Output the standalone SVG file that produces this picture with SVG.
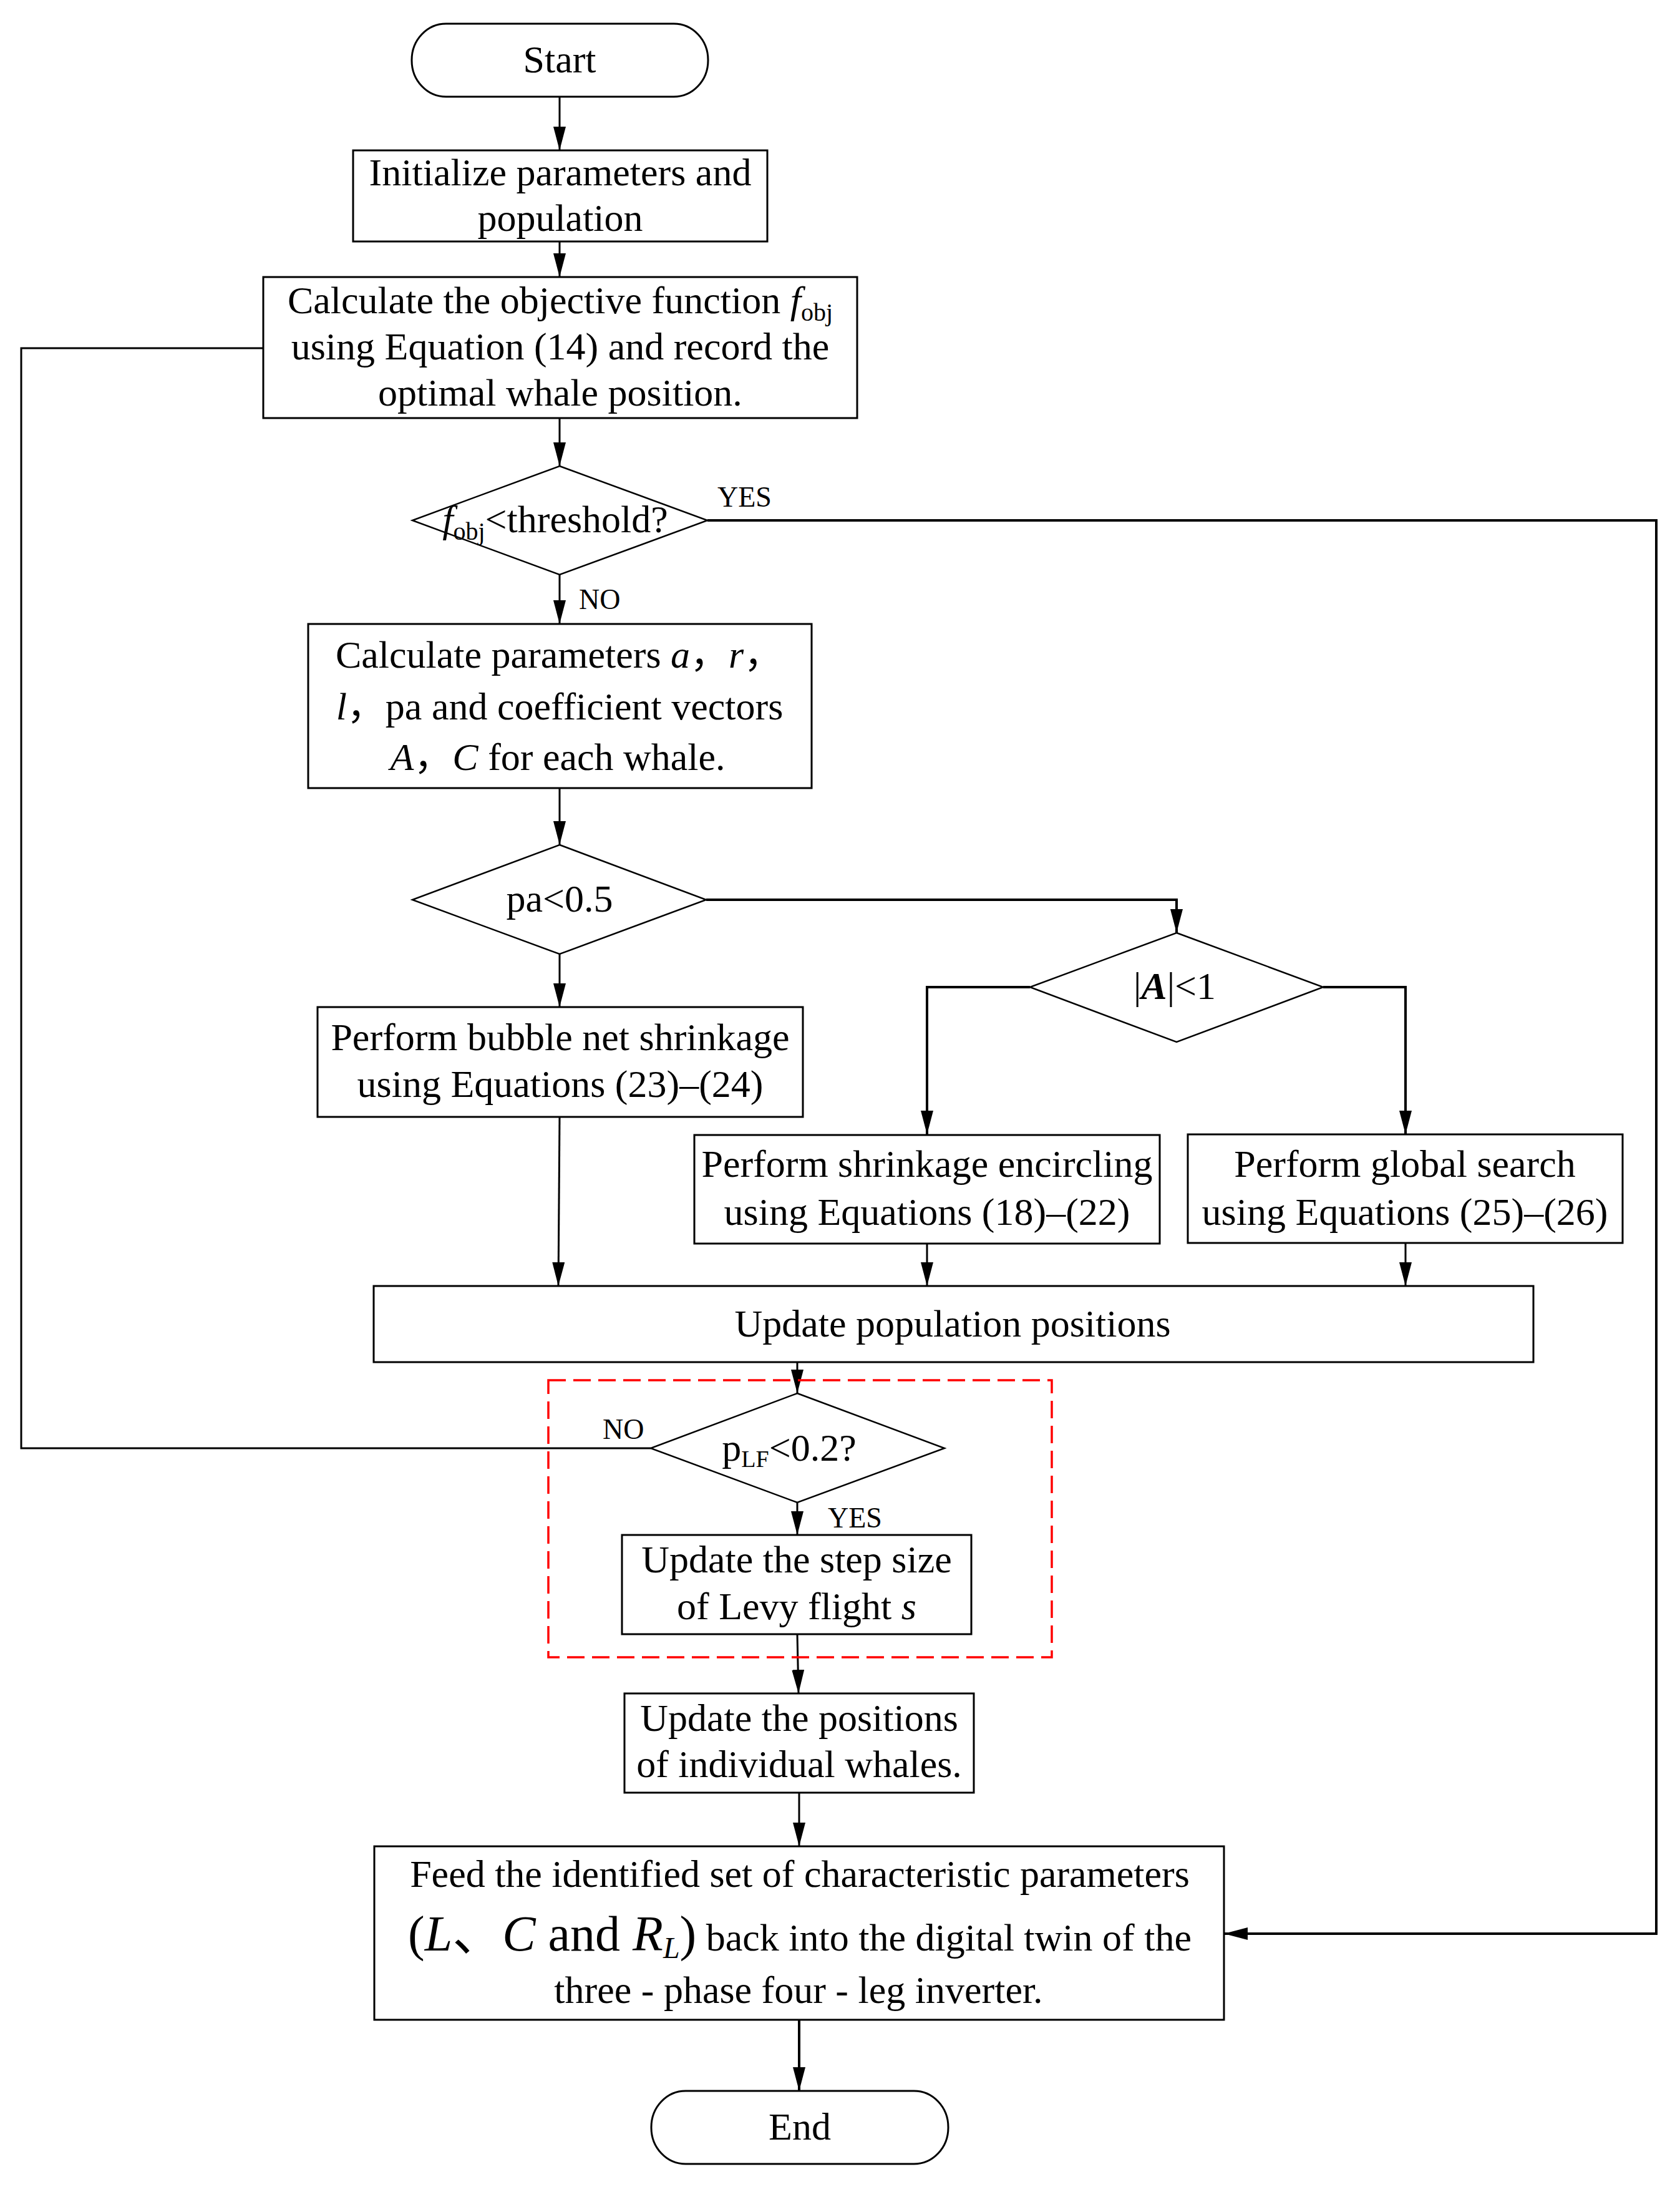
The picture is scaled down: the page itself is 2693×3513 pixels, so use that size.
<svg xmlns="http://www.w3.org/2000/svg" width="2693" height="3513" viewBox="0 0 2693 3513">
<style>
.n{fill:#fff;stroke:#000;stroke-width:3}
.d{fill:#fff;stroke:#000;stroke-width:2.5}
.t{font-family:"Liberation Serif","Times New Roman","Noto Sans CJK SC",serif;font-size:62px;fill:#000;text-anchor:middle}
.l{font-family:"Liberation Serif","Times New Roman",serif;font-size:46px;fill:#000}
.i{font-style:italic}
.c{fill:none;stroke:#000;stroke-width:3}
.ck{fill:none;stroke:#000;stroke-width:4}
</style>
<defs>
<marker id="a" markerUnits="userSpaceOnUse" markerWidth="40" markerHeight="20" refX="38" refY="10" orient="auto">
<path d="M0,0 L38,10 L0,20 Z" fill="#000"/>
</marker>
</defs>
<rect width="2693" height="3513" fill="#fff"/>
<g id="connectors">
<path class="c" d="M897,155 V241" marker-end="url(#a)"/>
<path class="c" d="M897,387 V444" marker-end="url(#a)"/>
<path class="c" d="M897,670 V747" marker-end="url(#a)"/>
<path class="ck" d="M1134,834 H2655 V3099 H1962" marker-end="url(#a)"/>
<path class="c" d="M897,921 V1000" marker-end="url(#a)"/>
<path class="c" d="M897,1263 V1354" marker-end="url(#a)"/>
<path class="ck" d="M1132,1442 H1886 V1495" marker-end="url(#a)"/>
<path class="c" d="M897,1529 V1614" marker-end="url(#a)"/>
<path class="ck" d="M1651,1582 H1486 V1818" marker-end="url(#a)"/>
<path class="ck" d="M2121,1582 H2253 V1818" marker-end="url(#a)"/>
<path class="c" d="M897,1790 L895,2061" marker-end="url(#a)"/>
<path class="c" d="M1486,1993 V2061" marker-end="url(#a)"/>
<path class="c" d="M2253,1992 V2061" marker-end="url(#a)"/>
<path class="c" d="M1278,2183 V2233" marker-end="url(#a)"/>
<path class="c" d="M1043,2321 H34 V558 H422"/>
<path class="c" d="M1278,2408 V2460" marker-end="url(#a)"/>
<path class="c" d="M1278,2619 L1280,2714" marker-end="url(#a)"/>
<path class="c" d="M1281,2873 V2959" marker-end="url(#a)"/>
<path class="ck" d="M1281,3237 V3351" marker-end="url(#a)"/>
<text class="l" x="1150" y="812">YES</text>
<text class="l" x="928" y="976">NO</text>
<text class="l" x="966" y="2306">NO</text>
<text class="l" x="1327" y="2448">YES</text>
</g>
<g id="levy-region">
<rect x="879" y="2212" width="807" height="444" fill="none" stroke="#f00" stroke-width="3.5" stroke-dasharray="28 12"/>
</g>
<g id="start">
<rect class="n" x="660" y="38" width="475" height="117" rx="55" ry="58"/>
<text class="t" x="897" y="116">Start</text>
</g>
<g id="init">
<rect class="n" x="566" y="241" width="664" height="146"/>
<text class="t" x="898" y="297">Initialize parameters and</text>
<text class="t" x="898" y="370">population</text>
</g>
<g id="calc-obj">
<rect class="n" x="422" y="444" width="952" height="226"/>
<text class="t" x="898" y="502">Calculate the objective function <tspan class="i">f</tspan><tspan font-size="40" dy="12">obj</tspan></text>
<text class="t" x="898" y="576">using Equation (14) and record the</text>
<text class="t" x="898" y="650">optimal whale position.</text>
</g>
<g id="threshold">
<polygon class="d" points="897,747 1134,834 897,921 661,834"/>
<text class="t" x="890" y="853"><tspan class="i">f</tspan><tspan font-size="40" dy="12">obj</tspan><tspan dy="-12">&lt;threshold?</tspan></text>
</g>
<g id="calc-params">
<rect class="n" x="494" y="1000" width="807" height="263"/>
<text class="t" x="538" y="1070" style="text-anchor:start">Calculate parameters <tspan class="i">a</tspan>，<tspan class="i">r</tspan>，</text>
<text class="t" x="897" y="1153"><tspan class="i">l</tspan>，pa and coefficient vectors</text>
<text class="t" x="894" y="1234"><tspan class="i">A</tspan>，<tspan class="i">C</tspan>  for each whale.</text>
</g>
<g id="pa">
<polygon class="d" points="897,1354 1132,1442 897,1529 661,1442"/>
<text class="t" x="897" y="1461">pa&lt;0.5</text>
</g>
<g id="bubble">
<rect class="n" x="509" y="1614" width="778" height="176"/>
<text class="t" x="898" y="1683">Perform bubble net shrinkage</text>
<text class="t" x="898" y="1758">using Equations (23)–(24)</text>
</g>
<g id="absA">
<polygon class="d" points="1886,1495 2121,1582 1886,1670 1651,1582"/>
<text class="t" x="1883" y="1601">|<tspan class="i" font-weight="bold">A</tspan>|&lt;1</text>
</g>
<g id="shrink">
<rect class="n" x="1113" y="1819" width="746" height="174"/>
<text class="t" x="1486" y="1886">Perform shrinkage encircling</text>
<text class="t" x="1486" y="1963">using Equations (18)–(22)</text>
</g>
<g id="global">
<rect class="n" x="1904" y="1818" width="697" height="174"/>
<text class="t" x="2252" y="1886">Perform global search</text>
<text class="t" x="2252" y="1963">using Equations (25)–(26)</text>
</g>
<g id="update-pop">
<rect class="n" x="599" y="2061" width="1859" height="122"/>
<text class="t" x="1527" y="2142">Update population positions</text>
</g>
<g id="plf">
<polygon class="d" points="1278,2233 1514,2321 1278,2408 1043,2321"/>
<text class="t" x="1265" y="2341">p<tspan font-size="38" dy="10">LF</tspan><tspan dy="-10">&lt;0.2?</tspan></text>
</g>
<g id="step">
<rect class="n" x="997" y="2460" width="560" height="159"/>
<text class="t" x="1277" y="2520">Update the step size</text>
<text class="t" x="1277" y="2595">of Levy flight <tspan class="i">s</tspan></text>
</g>
<g id="positions">
<rect class="n" x="1001" y="2714" width="560" height="159"/>
<text class="t" x="1281" y="2774">Update the positions</text>
<text class="t" x="1281" y="2848">of individual whales.</text>
</g>
<g id="feed">
<rect class="n" x="600" y="2959" width="1362" height="278"/>
<text class="t" x="1282" y="3024">Feed the identified set of characteristic parameters</text>
<text class="t" x="1282" y="3126"><tspan font-size="80">(<tspan class="i">L</tspan>、<tspan class="i">C</tspan> and <tspan class="i">R</tspan></tspan><tspan class="i" font-size="48" dy="12">L</tspan><tspan font-size="80" dy="-12">)</tspan> back into the digital twin of the</text>
<text class="t" x="1280" y="3210">three - phase four - leg inverter.</text>
</g>
<g id="end">
<rect class="n" x="1044" y="3351" width="476" height="117" rx="55" ry="58"/>
<text class="t" x="1282" y="3429">End</text>
</g>
</svg>
